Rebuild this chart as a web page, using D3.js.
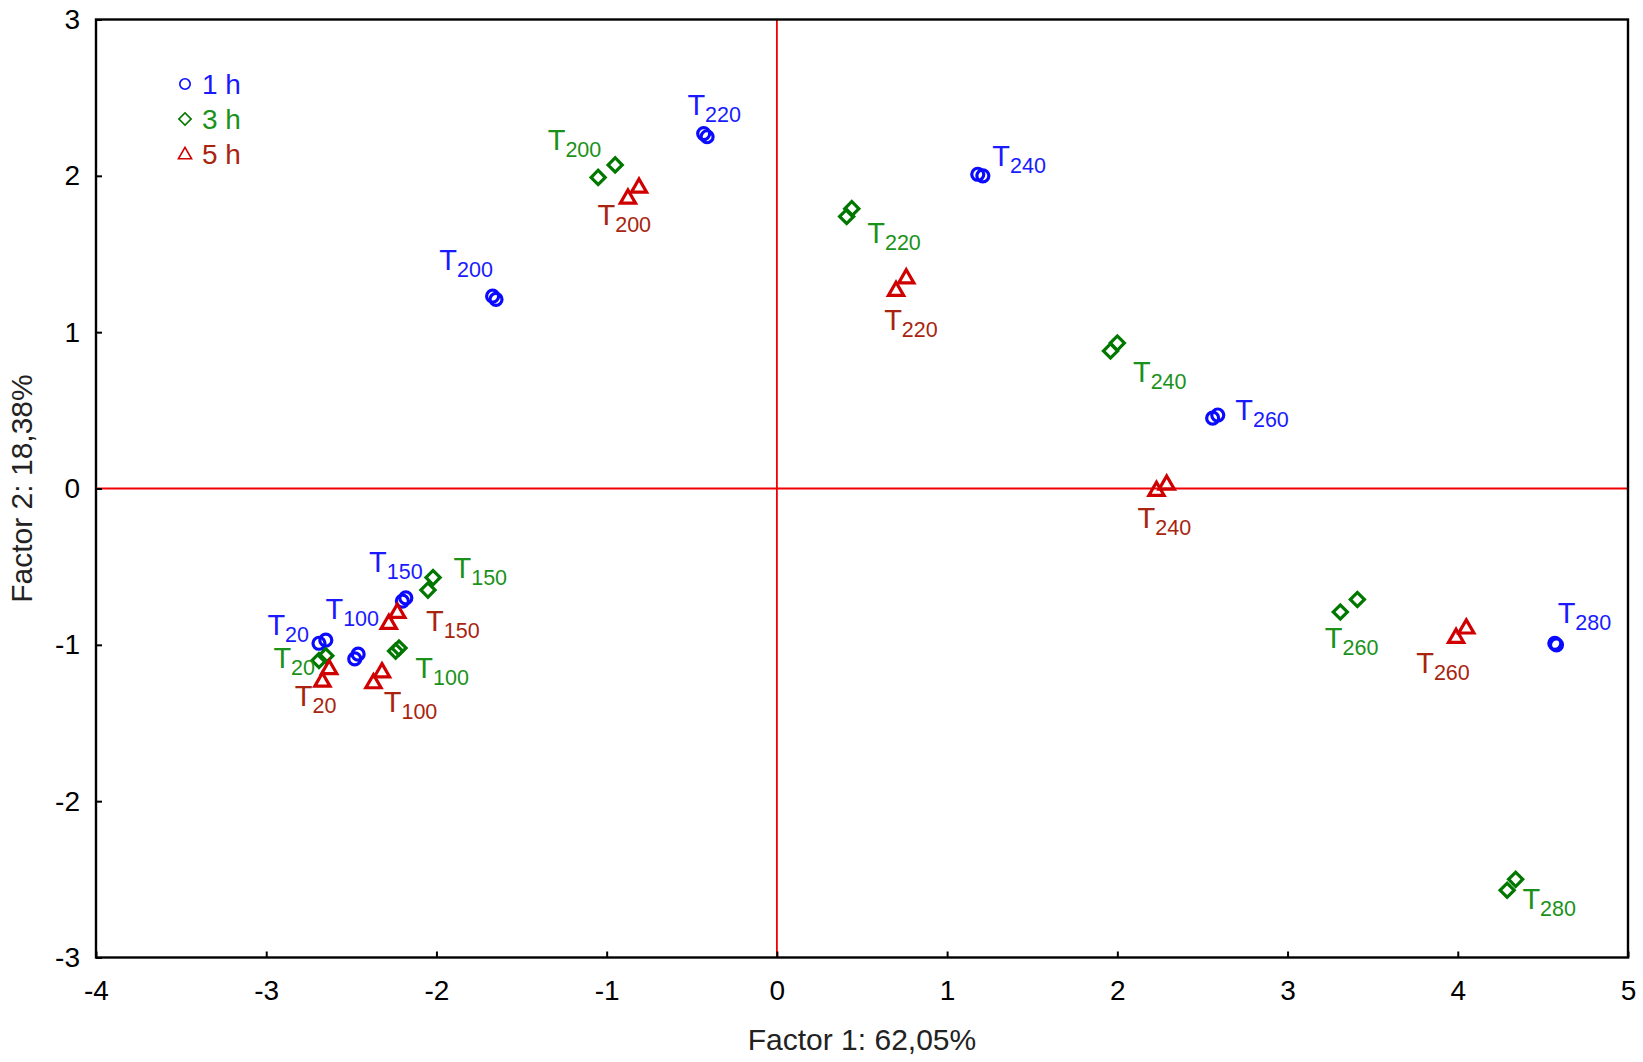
<!DOCTYPE html>
<html lang="en">
  <head>
    <meta charset="UTF-8" />
    <title>PCA factor plot</title>
    <style>
      body { margin: 0; background: #fff; }
      svg { display: block; }
    </style>
  </head>
  <body>
    <script src="https://d3js.org/d3.v7.min.js"></script>
    <script>

// temperature labels (same order in every series)
var temps = ["20", "100", "150", "200", "220", "240", "260", "280"];

// 1 h : two replicates per temperature, factor 1 / factor 2
var f1_1h = [[-2.69, -2.65], [-2.48, -2.46], [-2.20, -2.18], [-1.67, -1.65], [-0.43, -0.41], [1.18, 1.21], [2.56, 2.59], [4.57, 4.58]];
var f2_1h = [[-0.99, -0.97], [-1.09, -1.06], [-0.72, -0.70], [1.23, 1.21], [2.27, 2.25], [2.01, 2.00], [0.45, 0.47], [-0.99, -1.00]];

// 3 h
var f1_3h = [[-2.69, -2.65], [-2.24, -2.22], [-2.05, -2.02], [-1.05, -0.95], [0.41, 0.44], [1.96, 2.00], [3.31, 3.41], [4.29, 4.34]];
var f2_3h = [[-1.10, -1.07], [-1.04, -1.02], [-0.65, -0.57], [1.99, 2.07], [1.74, 1.79], [0.88, 0.93], [-0.79, -0.71], [-2.57, -2.50]];

// 5 h (no 280 point)
var f1_5h = [[-2.67, -2.63], [-2.37, -2.32], [-2.28, -2.23], [-0.875, -0.81], [0.70, 0.76], [2.23, 2.29], [3.99, 4.05]];
var f2_5h = [[-1.23, -1.15], [-1.24, -1.17], [-0.86, -0.79], [1.86, 1.93], [1.27, 1.35], [-0.01, 0.03], [-0.95, -0.89]];

var seriesNames = ["1 h", "3 h", "5 h"];
var xTicks = [-4, -3, -2, -1, 0, 1, 2, 3, 4, 5];
var yTicks = [-3, -2, -1, 0, 1, 2, 3];

// label placement (pixel offsets from the pair's mean), layout only
var labelOff_1h = [[-55, -7], [-31, -38], [-35, -27], [-55, -28], [-18, -20], [12, -9], [20, 3], [2, -21]];
var labelOff_3h = [[-49, 10], [18, 28], [23, -6], [-59, -21], [18, 30], [19, 35], [-24, 42], [11, 24]];
var labelOff_5h = [[-31, 31], [6, 35], [33, 14], [-36, 33], [-17, 46], [-24, 41], [-45, 41]];

var width = 1643, height = 1062;
var margin = {left: 96, right: 15, top: 19.5, bottom: 104.5};
var font = "'Liberation Sans', Arial, sans-serif";

var svg = d3.select("body").append("svg")
    .attr("width", width)
    .attr("height", height)
    .style("font-family", font);

svg.append("rect").attr("width", width).attr("height", height).attr("fill", "#fff");

var x = d3.scaleLinear().domain([-4, 5]).range([margin.left, width - margin.right]);
var y = d3.scaleLinear().domain([-3, 3]).range([height - margin.bottom, margin.top]);

// zero reference lines
svg.append("line")
    .attr("x1", x(0)).attr("x2", x(0))
    .attr("y1", y(3)).attr("y2", y(-3))
    .attr("stroke", "#f00000").attr("stroke-width", 1.8);
svg.append("line")
    .attr("x1", x(-4)).attr("x2", x(5))
    .attr("y1", y(0)).attr("y2", y(0))
    .attr("stroke", "#f00000").attr("stroke-width", 1.8);

// axes, ticks pointing inward
var xAxis = svg.append("g")
    .attr("transform", "translate(0," + y(-3) + ")")
    .call(d3.axisBottom(x).tickValues(xTicks).tickFormat(function(d){ return String(d); })
      .tickSizeInner(-6).tickSizeOuter(0).tickPadding(23));
var yAxis = svg.append("g")
    .attr("transform", "translate(" + x(-4) + ",0)")
    .call(d3.axisLeft(y).tickValues(yTicks).tickFormat(function(d){ return String(d); })
      .tickSizeInner(-6).tickSizeOuter(0).tickPadding(16));

[xAxis, yAxis].forEach(function(a){
  a.select(".domain").remove();
  a.selectAll("line").attr("stroke", "#000").attr("stroke-width", 2);
  a.selectAll("text").attr("font-family", font).attr("font-size", 28).attr("fill", "#000");
});

// frame
svg.append("rect")
    .attr("x", x(-4)).attr("y", y(3))
    .attr("width", x(5) - x(-4)).attr("height", y(-3) - y(3))
    .attr("fill", "none").attr("stroke", "#000").attr("stroke-width", 2.4);

// axis titles
svg.append("text")
    .attr("x", (x(-4) + x(5)) / 2).attr("y", 1050)
    .attr("text-anchor", "middle").attr("font-size", 30).attr("fill", "#222")
    .text("Factor 1: 62,05%");
svg.append("text")
    .attr("transform", "translate(32," + (y(-3) + y(3)) / 2 + ") rotate(-90)")
    .attr("text-anchor", "middle").attr("font-size", 30).attr("fill", "#222")
    .text("Factor 2: 18,38%");

var series = [
  {name: seriesNames[0], f1: f1_1h, f2: f2_1h, off: labelOff_1h, shape: "circle", mark: "#0a0aff", label: "#1a1aff"},
  {name: seriesNames[1], f1: f1_3h, f2: f2_3h, off: labelOff_3h, shape: "diamond", mark: "#007800", label: "#1a921a"},
  {name: seriesNames[2], f1: f1_5h, f2: f2_5h, off: labelOff_5h, shape: "triangle", mark: "#d00000", label: "#a8240f"}
];

function shapePath(shape, scale) {
  if (shape === "circle") return d3.symbol(d3.symbolCircle, 113 * scale)();
  if (shape === "diamond") return d3.symbol(d3.symbolSquare, 100 * scale)();
  return d3.symbol(d3.symbolTriangle, 100 * scale)();
}

series.forEach(function(s) {
  var g = svg.append("g");
  s.f1.forEach(function(pair, i) {
    pair.forEach(function(v, j) {
      g.append("path")
        .attr("d", shapePath(s.shape, 1))
        .attr("transform", "translate(" + x(v) + "," + y(s.f2[i][j]) + ")" +
              (s.shape === "diamond" ? " rotate(45)" : "") +
              (s.shape === "triangle" ? " translate(0,1)" : ""))
        .attr("fill", "none")
        .attr("stroke", s.mark)
        .attr("stroke-width", 3.2);
    });
    var px = x(d3.mean(pair)), py = y(d3.mean(s.f2[i]));
    var t = g.append("text")
      .attr("x", px + s.off[i][0]).attr("y", py + s.off[i][1])
      .attr("fill", s.label).attr("font-size", 29);
    t.append("tspan").text("T");
    t.append("tspan").attr("dy", 7).attr("font-size", 21.5).text(temps[i]);
  });
});

// legend
var legend = svg.append("g").attr("transform", "translate(185,84)");
series.forEach(function(s, i) {
  var row = legend.append("g").attr("transform", "translate(0," + (i * 35) + ")");
  row.append("path")
    .attr("d", shapePath(s.shape, 0.75))
    .attr("transform", (s.shape === "diamond" ? "rotate(45)" : "") + (s.shape === "triangle" ? "translate(0,1)" : ""))
    .attr("fill", "none").attr("stroke", s.mark).attr("stroke-width", 1.6);
  row.append("text")
    .attr("x", 17).attr("y", 10)
    .attr("font-size", 28)
    .attr("fill", i === 0 ? "#1a1aff" : (i === 1 ? "#1a921a" : "#a8240f"))
    .text(s.name);
});

</script>
  </body>
</html>
